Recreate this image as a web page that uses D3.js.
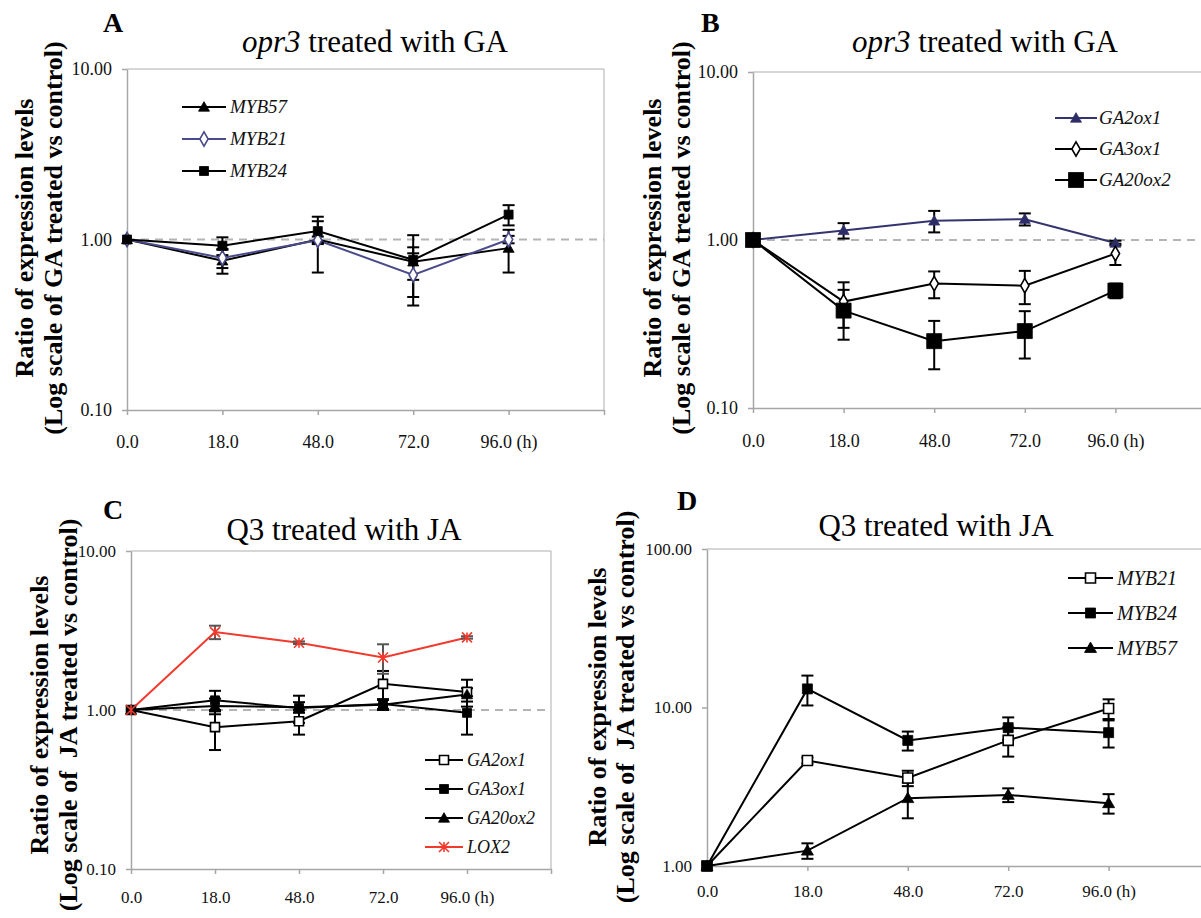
<!DOCTYPE html>
<html>
<head>
<meta charset="utf-8">
<script src="https://cdn.jsdelivr.net/npm/d3@7"></script>
<style>
  body { margin: 0; background: #fff; }
  svg { display: block; font-family: "Liberation Serif", "Times New Roman", serif; }
  text { white-space: pre; }
</style>
</head>
<body>
<div id="container"></div>
<script>
// x categories (hours)
const hours = ["0.0", "18.0", "48.0", "72.0", "96.0 (h)"];

// panel A: opr3 treated with GA
const aMYB57 = [1.00, 0.75, 1.00, 0.74, 0.89];
const aMYB57Err = [0, 0.12, 0.36, 0.16, 0.25];
const aMYB21 = [1.00, 0.78, 0.99, 0.62, 1.00];
const aMYB21Err = [0, 0.10, 0.05, 0.21, 0.05];
const aMYB24 = [1.00, 0.92, 1.12, 0.76, 1.40];
const aMYB24Err = [0, 0.11, 0.16, 0.30, 0.19];

// panel B: opr3 treated with GA
const bGA2ox1 = [1.00, 1.14, 1.30, 1.33, 0.96];
const bGA2ox1Err = [0, 0.12, 0.19, 0.11, 0.03];
const bGA3ox1 = [1.00, 0.43, 0.55, 0.535, 0.83];
const bGA3ox1Err = [0, 0.13, 0.10, 0.12, 0.12];
const bGA20ox2 = [1.00, 0.38, 0.25, 0.287, 0.50];
const bGA20ox2Err = [0, 0.125, 0.08, 0.09, 0.05];

// panel C: Q3 treated with JA
const cGA2ox1 = [1.00, 0.78, 0.85, 1.46, 1.30];
const cGA2ox1Err = [0, 0.22, 0.15, 0.30, 0.25];
const cGA3ox1 = [1.00, 1.15, 1.03, 1.09, 0.96];
const cGA3ox1Err = [0, 0.17, 0.20, 0.08, 0.26];
const cGA20ox2 = [1.00, 1.06, 1.04, 1.08, 1.25];
const cGA20ox2Err = [0, 0.12, 0.08, 0.08, 0.12];
const cLOX2 = [1.00, 3.09, 2.65, 2.14, 2.86];
const cLOX2Err = [0, 0.30, 0.05, 0.45, 0.05];

// panel D: Q3 treated with JA
const dMYB21 = [1.00, 4.63, 3.59, 6.20, 9.86];
const dMYB21Err = [0, 0.20, 0.40, 1.30, 1.40];
const dMYB24 = [1.00, 13.1, 6.20, 7.46, 6.94];
const dMYB24Err = [0, 2.8, 0.85, 1.20, 1.35];
const dMYB57 = [1.00, 1.25, 2.68, 2.81, 2.49];
const dMYB57Err = [0, 0.14, 0.68, 0.28, 0.35];

const svg = d3.select("#container").append("svg")
  .attr("width", 1201)
  .attr("height", 918);

svg.append("rect").attr("width", 1201).attr("height", 918).attr("fill", "#fff");

const AXIS_GRAY = "#a6a6a6";

// draw one marker
function drawMarker(g, type, cx, cy, size, color, fill) {
  if (type === "star") {
    const r = size / 2;
    g.append("path")
      .attr("transform", `translate(${cx},${cy})`)
      .attr("d", `M${-r},${-r}L${r},${r}M${-r},${r}L${r},${-r}M0,${-r}L0,${r}`)
      .attr("stroke", color)
      .attr("stroke-width", 1.6)
      .attr("fill", "none");
    return;
  }
  const sym = { triangle: d3.symbolTriangle, square: d3.symbolSquare, diamond: d3.symbolDiamond }[type];
  let area = size * size;
  if (type === "triangle") area = Math.sqrt(3) / 4 * size * size;
  if (type === "diamond") area = size * size * 0.6;
  g.append("path")
    .attr("transform", `translate(${cx},${cy + (type === "triangle" ? 1 : 0)})`)
    .attr("d", d3.symbol(sym, area)())
    .attr("fill", fill)
    .attr("stroke", color)
    .attr("stroke-width", fill === "#fff" ? 1.6 : 0.8);
}

function drawPanel(p) {
  const g = svg.append("g");

  const x = d3.scaleLinear().domain([0, 5]).range([p.x0, p.x1]);
  const y = d3.scaleLog().domain(p.yDomain).range([p.yBot, p.yTop]);

  // plot border (top and right)
  g.append("line").attr("x1", p.x0).attr("x2", p.x1).attr("y1", p.yTop).attr("y2", p.yTop)
    .attr("stroke", "#c8c8c8").attr("stroke-width", 1.5);
  g.append("line").attr("x1", p.x1).attr("x2", p.x1).attr("y1", p.yTop).attr("y2", p.yBot)
    .attr("stroke", "#c8c8c8").attr("stroke-width", 1.5);

  // reference dashed line at 1.00 (skipped when it sits on the x axis)
  if (Math.abs(y(1) - p.yBot) > 1) {
    g.append("line")
      .attr("x1", p.x0).attr("x2", p.x1)
      .attr("y1", y(1)).attr("y2", y(1))
      .attr("stroke", "#b4b4b4").attr("stroke-width", 2)
      .attr("stroke-dasharray", "8,6");
  }

  // y axis
  const yAxis = g.append("g")
    .attr("transform", `translate(${p.x0},0)`)
    .call(d3.axisLeft(y).tickValues(p.yTicks).tickFormat(d3.format(".2f"))
      .tickSize(5).tickSizeOuter(0).tickPadding(10));
  // x axis
  const xAxis = g.append("g")
    .attr("transform", `translate(0,${p.yBot})`)
    .call(d3.axisBottom(x).tickValues(d3.range(0, 6)).tickFormat(i => hours[i] || "")
      .tickSize(5).tickSizeOuter(0).tickPadding(p.xLabelOff - 5 - 0.71 * p.tickFs));
  [yAxis, xAxis].forEach(ax => {
    ax.select(".domain").attr("stroke", AXIS_GRAY).attr("stroke-width", 1.5);
    ax.selectAll(".tick line").attr("stroke", AXIS_GRAY).attr("stroke-width", 1.5);
    ax.selectAll("text")
      .attr("fill", "#111")
      .style("font-family", "'Liberation Serif', 'Times New Roman', serif")
      .style("font-size", p.tickFs + "px");
  });

  // series lines
  const line = d3.line().x((d, i) => x(i)).y(d => y(d));
  p.series.forEach(s => {
    g.append("path")
      .datum(s.values)
      .attr("d", line)
      .attr("fill", "none")
      .attr("stroke", s.color)
      .attr("stroke-width", 2);
  });

  // error bars
  p.series.forEach(s => {
    s.values.forEach((v, i) => {
      const e = s.err[i];
      if (!e) return;
      const xi = x(i);
      const lo = Math.max(v - e, p.yDomain[0]);
      const eg = g.append("g").attr("stroke", s.errColor || "#000").attr("stroke-width", 2);
      eg.append("line").attr("x1", xi).attr("x2", xi).attr("y1", y(v + e)).attr("y2", y(lo));
      [v + e, lo].forEach(t => {
        eg.append("line").attr("x1", xi - 6).attr("x2", xi + 6).attr("y1", y(t)).attr("y2", y(t));
      });
    });
  });

  // markers
  p.series.forEach(s => {
    s.values.forEach((v, i) => drawMarker(g, s.marker, x(i), y(v), s.size, s.color, s.fill));
  });

  // legend
  p.series.forEach((s, k) => {
    const ly = p.legend.rows[k];
    g.append("line")
      .attr("x1", p.legend.x).attr("x2", p.legend.x + p.legend.len)
      .attr("y1", ly).attr("y2", ly)
      .attr("stroke", s.color).attr("stroke-width", 2);
    drawMarker(g, s.marker, p.legend.x + p.legend.len / 2, ly, s.size, s.color, s.fill);
    g.append("text")
      .attr("x", p.legend.tx).attr("y", ly).attr("dy", "0.33em")
      .style("font-style", "italic")
      .style("font-size", p.legend.fs + "px")
      .attr("fill", "#111")
      .text(s.name);
  });

  // panel letter
  g.append("text")
    .attr("x", p.letter[0]).attr("y", p.letter[1])
    .style("font-weight", "bold").style("font-size", "28px")
    .text(p.letter[2]);

  // title
  const t = g.append("text")
    .attr("x", p.title[0]).attr("y", p.title[1])
    .attr("text-anchor", "middle")
    .style("font-size", "31px");
  if (p.titleItalic) t.append("tspan").style("font-style", "italic").text(p.titleItalic);
  t.append("tspan").text(p.titleText);

  // y axis title (two lines)
  [[p.yTitle[0], "Ratio of expression levels"], [p.yTitle[1], p.yTitleLine2]].forEach(([tx, str]) => {
    g.append("text")
      .attr("transform", `translate(${tx},${p.yTitle[2]}) rotate(-90)`)
      .attr("text-anchor", "middle")
      .style("font-weight", "bold")
      .style("font-size", "26px")
      .text(str);
  });
}

const GA_LINE2 = "(Log scale of GA treated vs control)";
const JA_LINE2 = "(Log scale of  JA treated vs control)";

drawPanel({
  x0: 127, x1: 604, yTop: 69, yBot: 410, yDomain: [0.1, 10], yTicks: [0.1, 1, 10],
  tickFs: 18, xLabelOff: 38,
  letter: [103, 32, "A"], title: [375, 52], titleItalic: "opr3", titleText: " treated with GA",
  yTitle: [33, 62, 238], yTitleLine2: GA_LINE2,
  legend: { x: 182, len: 44, tx: 230, fs: 19, rows: [107, 139, 171] },
  series: [
    { name: "MYB57", values: aMYB57, err: aMYB57Err, marker: "triangle", size: 11, color: "#000", fill: "#000" },
    { name: "MYB21", values: aMYB21, err: aMYB21Err, marker: "diamond", size: 10, color: "#4b4b8c", fill: "#fff" },
    { name: "MYB24", values: aMYB24, err: aMYB24Err, marker: "square", size: 9, color: "#000", fill: "#000" }
  ]
});

drawPanel({
  x0: 753, x1: 1206, yTop: 72, yBot: 408, yDomain: [0.1, 10], yTicks: [0.1, 1, 10],
  tickFs: 18, xLabelOff: 39,
  letter: [701, 32, "B"], title: [985, 52], titleItalic: "opr3", titleText: " treated with GA",
  yTitle: [661, 690, 238], yTitleLine2: GA_LINE2,
  legend: { x: 1055, len: 42, tx: 1099, fs: 19, rows: [118, 149, 180] },
  series: [
    { name: "GA2ox1", values: bGA2ox1, err: bGA2ox1Err, marker: "triangle", size: 11, color: "#34346e", fill: "#2c2c66" },
    { name: "GA3ox1", values: bGA3ox1, err: bGA3ox1Err, marker: "diamond", size: 10, color: "#000", fill: "#fff" },
    { name: "GA20ox2", values: bGA20ox2, err: bGA20ox2Err, marker: "square", size: 15, color: "#000", fill: "#000" }
  ]
});

drawPanel({
  x0: 131, x1: 551, yTop: 551, yBot: 869, yDomain: [0.1, 10], yTicks: [0.1, 1, 10],
  tickFs: 17, xLabelOff: 34,
  letter: [103, 519, "C"], title: [344, 540], titleItalic: null, titleText: "Q3 treated with JA",
  yTitle: [48, 77, 715], yTitleLine2: JA_LINE2,
  legend: { x: 425, len: 38, tx: 467, fs: 18, rows: [760, 789, 818, 847] },
  series: [
    { name: "GA2ox1", values: cGA2ox1, err: cGA2ox1Err, marker: "square", size: 9, color: "#000", fill: "#fff" },
    { name: "GA3ox1", values: cGA3ox1, err: cGA3ox1Err, marker: "square", size: 9, color: "#000", fill: "#000" },
    { name: "GA20ox2", values: cGA20ox2, err: cGA20ox2Err, marker: "triangle", size: 11, color: "#000", fill: "#000" },
    { name: "LOX2", values: cLOX2, err: cLOX2Err, marker: "star", size: 10, color: "#f03a2e", fill: "none", errColor: "#555" }
  ]
});

drawPanel({
  x0: 707, x1: 1209, yTop: 549, yBot: 866, yDomain: [1, 100], yTicks: [1, 10, 100],
  tickFs: 17, xLabelOff: 31,
  letter: [677, 510, "D"], title: [936, 536], titleItalic: null, titleText: "Q3 treated with JA",
  yTitle: [606, 634, 707], yTitleLine2: JA_LINE2,
  legend: { x: 1068, len: 45, tx: 1117, fs: 20, rows: [578, 613, 648] },
  series: [
    { name: "MYB21", values: dMYB21, err: dMYB21Err, marker: "square", size: 10, color: "#000", fill: "#fff" },
    { name: "MYB24", values: dMYB24, err: dMYB24Err, marker: "square", size: 10, color: "#000", fill: "#000" },
    { name: "MYB57", values: dMYB57, err: dMYB57Err, marker: "triangle", size: 12, color: "#000", fill: "#000" }
  ]
});
</script>
</body>
</html>
